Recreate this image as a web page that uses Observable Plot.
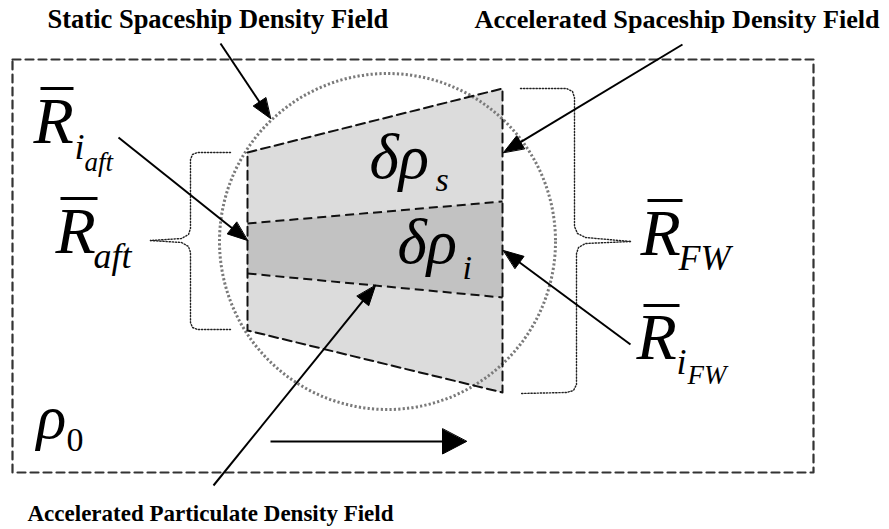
<!DOCTYPE html>
<html><head><meta charset="utf-8">
<script src="https://cdn.jsdelivr.net/npm/d3@7"></script>
<script src="https://cdn.jsdelivr.net/npm/@observablehq/plot@0.6"></script>
<style>body{margin:0;background:#fff;} #chart svg{display:block;}</style>
</head><body><div id="chart"></div>
<script>
// ---- diagram geometry (pixel space of the 889x529 figure) ----
const frameCorners = [[12,59],[813,59],[813,472],[12,472]];
const circleCenter = [[387,241]];
const circleRadius = 168;
const spaceshipPoly = [[247,152],[502,88],[502,392],[247,330]];
const particlePoly = [[247,223],[502,201],[502,297],[247,273]];
const bandEdgesStart = [[247,223],[247,273]];
const bandEdgesEnd = [[502,201],[502,297]];
const braceLeftTop = [[230,152],[197,152],[192,154],[190,159],[190,228],[188,234],[181,238],[150,240]];
const braceLeftBottom = [[150,240],[181,242],[188,246],[190,252],[190,322],[192,327],[197,329],[230,329]];
const braceRightTop = [[520,88],[566,88],[572,91],[574,97],[574,226],[577,233],[585,237],[630,241]];
const braceRightBottom = [[630,241],[585,243],[578,247],[576,253],[576,384],[573,390],[566,392],[520,393]];
const arrowStart = [[220,43],[682,44],[118,137],[630,344],[213,485],[270,441]];
const arrowEnd   = [[270,118],[503,152],[247,240],[503,250],[375,285],[466,441]];
const arrowIsBig = [false,false,false,false,false,true];

// ---- text ----
const titleText = ["Static Spaceship Density Field","Accelerated Spaceship Density Field","Accelerated Particulate Density Field"];
const titleX = [47,474,27];
const titleY = [27,27,520];
const titleSize = [26.5,26.2,23];

const symText = ["R","i","aft","R","aft","δρ","s","δρ","i","R","FW","R","i","FW","ρ"];
const symX    = [33,74,84,55,93,369,435,397,462,640,678,636,676,687,36];
const symY    = [142,158,170,252,267,177,190,262,278,254,269,358,373,383,437];
const symSize = [66,36,27,66,36,63,34,63,34,66,36,66,36,27,62];
const subZeroText = ["0"], subZeroX = [66], subZeroY = [450], subZeroSize = [34];

const overX1 = [40,60,647,643];
const overX2 = [73,97,682,679];
const overY  = [88,198,200,305];

// ---- derived arrow heads ----
const shafts = [], heads = [];
arrowStart.forEach((s,i) => {
  const e = arrowEnd[i];
  const L = arrowIsBig[i] ? 24 : 20, hw = arrowIsBig[i] ? 12.5 : 7.5;
  const dx = e[0]-s[0], dy = e[1]-s[1], n = Math.hypot(dx,dy);
  const ux = dx/n, uy = dy/n;
  const bx = e[0]-ux*L, by = e[1]-uy*L;
  shafts.push({x1:s[0],y1:s[1],x2:bx+ux*2,y2:by+uy*2});
  heads.push({id:i,x:e[0],y:e[1]},{id:i,x:bx-uy*hw,y:by+ux*hw},{id:i,x:bx+uy*hw,y:by-ux*hw});
});

const P = d => ({x: d[0], y: d[1]});
const serif = "'Liberation Serif','Times New Roman',Times,serif";

const chart = Plot.plot({
  width: 889, height: 529, margin: 0,
  x: {domain: [0, 889], range: [0, 889], axis: null},
  y: {domain: [0, 529], range: [0, 529], axis: null},
  marks: [
    Plot.line(spaceshipPoly.map(P), {x:"x", y:"y", curve:"linear-closed", fill:"#dcdcdc", stroke:"none"}),
    Plot.line(particlePoly.map(P), {x:"x", y:"y", curve:"linear-closed", fill:"#c2c2c2", stroke:"none"}),
    Plot.dot(circleCenter.map(P), {x:"x", y:"y", r: circleRadius, fill:"none", stroke:"#7a7a7a", strokeWidth:3, strokeDasharray:"2.2,2.2"}),
    Plot.line(spaceshipPoly.map(P), {x:"x", y:"y", curve:"linear-closed", fill:"none", stroke:"#111", strokeWidth:2, strokeDasharray:"9,5"}),
    Plot.link(bandEdgesStart.map((s,i)=>({x1:s[0],y1:s[1],x2:bandEdgesEnd[i][0],y2:bandEdgesEnd[i][1]})), {x1:"x1",y1:"y1",x2:"x2",y2:"y2", stroke:"#111", strokeWidth:2, strokeDasharray:"9,5"}),
    Plot.line(frameCorners.map(P), {x:"x", y:"y", curve:"linear-closed", fill:"none", stroke:"#333", strokeWidth:2.2, strokeDasharray:"8,5"}),
    ...[braceLeftTop, braceLeftBottom, braceRightTop, braceRightBottom].map(b =>
      Plot.line(b.map(P), {x:"x", y:"y", stroke:"#222", strokeWidth:1.4, strokeDasharray:"1.3,1.8"})),
    Plot.link(shafts, {x1:"x1",y1:"y1",x2:"x2",y2:"y2", stroke:"#000", strokeWidth:2}),
    Plot.line(heads, {x:"x", y:"y", z:"id", curve:"linear-closed", fill:"#000", stroke:"#000", strokeWidth:1}),
    Plot.link(overX1.map((x,i)=>({x1:x,x2:overX2[i],y:overY[i]})), {x1:"x1",x2:"x2",y1:"y",y2:"y", stroke:"#000", strokeWidth:3}),
    Plot.text(titleText.map((t,i)=>({t,x:titleX[i],y:titleY[i],s:titleSize[i]})), {x:"x", y:"y", text:"t", fontSize:"s", textAnchor:"start", lineAnchor:"bottom", fontFamily:serif, fontWeight:"bold", fill:"#000"}),
    Plot.text(symText.map((t,i)=>({t,x:symX[i],y:symY[i],s:symSize[i]})), {x:"x", y:"y", text:"t", fontSize:"s", textAnchor:"start", lineAnchor:"bottom", fontFamily:serif, fontStyle:"italic", fill:"#000"}),
    Plot.text(subZeroText.map((t,i)=>({t,x:subZeroX[i],y:subZeroY[i],s:subZeroSize[i]})), {x:"x", y:"y", text:"t", fontSize:"s", textAnchor:"start", lineAnchor:"bottom", fontFamily:serif, fill:"#000"})
  ]
});
document.getElementById("chart").append(chart);
</script></body></html>
